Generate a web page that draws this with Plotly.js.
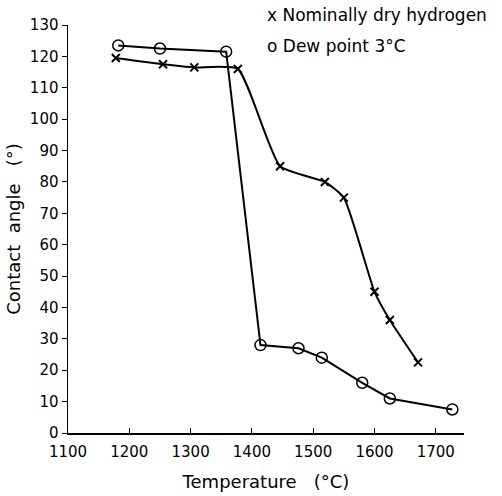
<!DOCTYPE html>
<html>
<head>
<meta charset="utf-8">
<script src="https://cdn.plot.ly/plotly-3.0.1.min.js"></script>
<style>html,body{margin:0;padding:0;background:#fff}#chart{width:502px;height:496px}</style>
</head>
<body>
<div id="chart"></div>
<script>
const dryTemp = [1178, 1255, 1306, 1377, 1446, 1519, 1550, 1600, 1625, 1671];
const dryAngle = [119.5, 117.5, 116.5, 116, 85, 80, 75, 45, 36, 22.5];
const dewTemp = [1182, 1250, 1358, 1414, 1476, 1514, 1580, 1625, 1727];
const dewAngle = [123.5, 122.5, 121.5, 28, 27, 24, 16, 11, 7.5];
const xTicks = [1100, 1200, 1300, 1400, 1500, 1600, 1700];
const yTicks = [0, 10, 20, 30, 40, 50, 60, 70, 80, 90, 100, 110, 120, 130];
const legendLabels = ["x Nominally dry hydrogen", "o Dew point 3°C"];

const fontFam = "DejaVu Sans, sans-serif";
const traces = [
  {x: dryTemp, y: dryAngle, mode: "lines+markers", name: "Nominally dry hydrogen",
   line: {color: "#000", width: 2, shape: "spline", smoothing: 0.5},
   marker: {symbol: "x-thin", size: 8, line: {color: "#000", width: 2}, color: "#000"}},
  {x: dewTemp, y: dewAngle, mode: "lines+markers", name: "Dew point 3°C",
   line: {color: "#000", width: 2, shape: "linear"},
   marker: {symbol: "circle-open", size: 11, line: {color: "#000", width: 1.5}, color: "#000"}}
];
const layout = {
  width: 502, height: 496,
  margin: {l: 68, r: 38, t: 25, b: 63},
  paper_bgcolor: "#fff", plot_bgcolor: "#fff",
  showlegend: false,
  font: {family: fontFam, color: "#000", size: 15},
  xaxis: {range: [1100, 1746], tickvals: xTicks, ticktext: xTicks.map(String),
    showgrid: false, zeroline: false, showline: true, linecolor: "#000", linewidth: 1.5,
    ticks: "inside", ticklen: 5, tickcolor: "#000", ticklabelstandoff: 4,
    tickfont: {family: fontFam, size: 15},
    title: {text: "Temperature   (°C)", font: {family: fontFam, size: 18}, standoff: 16}},
  yaxis: {range: [0, 130], tickvals: yTicks, ticktext: yTicks.map(String),
    showgrid: false, zeroline: false, showline: true, linecolor: "#000", linewidth: 1.5,
    ticks: "outside", ticklen: 5, tickcolor: "#000",
    tickfont: {family: fontFam, size: 15},
    title: {text: "Contact  angle   (°)", font: {family: fontFam, size: 18}, standoff: 4}},
  annotations: [
    {xref: "paper", yref: "paper", x: 0.497, y: 1.025, xanchor: "left", yanchor: "middle",
     text: legendLabels[0], showarrow: false, font: {family: fontFam, size: 17}},
    {xref: "paper", yref: "paper", x: 0.497, y: 0.949, xanchor: "left", yanchor: "middle",
     text: legendLabels[1], showarrow: false, font: {family: fontFam, size: 17}}
  ]
};
Plotly.newPlot("chart", traces, layout, {displayModeBar: false, staticPlot: true});
</script>
</body>
</html>
